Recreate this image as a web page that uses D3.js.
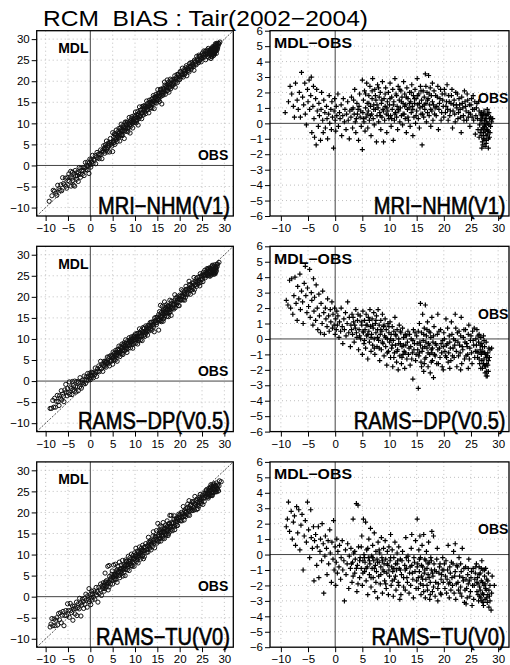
<!DOCTYPE html>
<html>
<head>
<meta charset="utf-8">
<script src="https://cdnjs.cloudflare.com/ajax/libs/d3/7.8.5/d3.min.js"></script>
<style>
body { margin: 0; background: #fff; }
svg { display: block; font-family: "Liberation Sans", Arial, Helvetica, sans-serif; }
</style>
</head>
<body>
<div id="chart"></div>
<script>
const TITLE = "RCM\u00a0\u00a0BIAS : Tair(2002\u22122004)";
const MODEL_NAMES = ["MRI\u2212NHM(V1)", "RAMS\u2212DP(V0.5)", "RAMS\u2212TU(V0)"];
const SCATTER_TICKS = [-10, -5, 0, 5, 10, 15, 20, 25, 30];
const BIAS_TICKS = [-6, -5, -4, -3, -2, -1, 0, 1, 2, 3, 4, 5, 6];
const OBS_DOMAIN = [-12, 32];
const BIAS_DOMAIN = [-6, 6];

// [OBS, MDL-OBS] pairs; MDL = OBS + bias on the left panels
const mriNhm = [
  [-9.2,0.7],[-8.6,1.4],[-8.3,2.4],[-8.0,1.9],[-7.7,1.1],[-7.5,0.4],[-7.3,2.6],[-7.0,1.5],[-6.8,0.9],[-6.6,2.0],
  [-6.4,0.4],[-6.2,3.3],[-6.0,1.7],[-5.8,1.2],[-5.6,2.6],[-5.5,0.6],[-5.3,-0.1],[-5.1,2.2],[-5.0,1.4],[-4.8,2.8],
  [-4.7,0.9],[-4.5,1.8],[-4.4,3.0],[-4.3,-0.6],[-4.1,1.1],[-4.0,2.4],[-3.9,0.3],[-3.8,-0.9],[-3.6,1.6],[-3.5,-1.4],
  [-3.4,2.2],[-3.3,0.8],[-3.1,-0.2],[-3.0,1.3],[-2.9,0.5],[-2.7,-1.1],[-2.6,0.9],[-2.5,2.0],[-2.3,0.2],[-2.2,-0.6],
  [-2.1,1.5],[-1.9,0.7],[-1.8,-0.3],[-1.6,1.1],[-1.5,0.3],[-1.4,-1.0],[-1.2,0.6],[-1.1,1.8],[-1.0,0.0],[-0.8,0.9],
  [-0.7,-0.4],[-0.6,1.4],[-0.5,0.4],[-0.3,-1.6],[-0.2,0.8],[-0.1,1.6],[0.0,0.2],[0.1,-0.5],[0.2,1.1],[0.3,0.5],
  [0.5,1.9],[0.6,-0.2],[0.8,0.7],[0.9,0.3],[1.1,1.2],[1.2,-0.8],[1.4,0.5],[1.5,1.6],[1.7,0.1],[1.8,0.9],
  [2.0,-0.4],[2.1,0.6],[2.3,1.4],[2.4,0.2],[2.6,-1.0],[2.7,0.8],[2.9,0.4],[3.0,1.7],[3.2,-0.3],[3.3,1.0],
  [3.5,0.6],[3.6,2.2],[3.8,-0.6],[3.9,0.3],[4.0,1.3],[4.2,0.9],[4.3,-1.1],[4.5,1.9],[4.6,0.4],[4.8,-0.2],
  [5.0,-1.7],[5.0,2.8],[5.1,0.7],[5.2,1.5],[5.3,0.1],[5.4,2.1],[5.5,-0.5],[5.6,1.0],[5.7,0.4],[5.8,2.6],
  [5.9,1.3],[6.0,-0.3],[6.1,0.8],[6.2,1.8],[6.3,0.2],[6.4,2.4],[6.5,1.1],[6.6,-0.8],[6.7,0.6],[6.8,1.6],
  [6.9,2.9],[7.0,0.3],[7.1,1.2],[7.2,-0.1],[7.3,2.2],[7.4,0.9],[7.5,1.5],[7.6,-1.2],[7.7,0.5],[7.8,2.5],
  [7.9,1.0],[8.0,0.1],[8.1,1.7],[8.2,0.7],[8.3,2.0],[8.4,-0.4],[8.5,1.3],[8.6,0.4],[8.7,2.7],[8.8,0.9],
  [8.9,-1.2],[9.0,1.6],[9.1,0.2],[9.2,1.1],[9.3,2.3],[9.4,0.6],[9.5,-0.6],[9.6,1.4],[9.7,0.8],[9.8,2.0],
  [9.9,0.3],[10.0,1.2],[10.1,2.6],[10.2,0.5],[10.3,-0.2],[10.4,1.7],[10.5,0.9],[10.6,2.2],[10.7,-1.1],[10.8,1.4],
  [10.9,0.2],[11.0,2.9],[11.1,0.7],[11.2,1.9],[11.3,0.4],[11.4,1.1],[11.5,-0.4],[11.6,2.4],[11.7,0.8],[11.8,1.5],
  [11.9,0.1],[12.0,1.0],[12.1,2.1],[12.2,0.5],[12.3,1.7],[12.4,-0.1],[12.5,1.3],[12.6,2.7],[12.7,0.6],[12.8,1.9],
  [12.9,0.3],[13.0,1.2],[13.1,-0.6],[13.2,2.3],[13.3,0.9],[13.4,1.6],[13.5,0.2],[13.6,1.0],[13.7,2.0],[13.8,-0.2],
  [13.9,1.4],[14.0,0.7],[14.1,2.5],[14.2,1.1],[14.3,-0.8],[14.4,1.8],[14.5,0.4],[14.6,1.3],[14.7,2.2],[14.8,0.0],
  [14.9,1.6],[15.0,0.8],[15.1,2.9],[15.2,1.2],[15.3,0.3],[15.4,1.9],[15.5,-0.3],[15.6,1.0],[15.7,2.4],[15.8,0.6],
  [15.9,1.5],[16.0,-1.4],[16.1,1.1],[16.2,2.1],[16.3,0.4],[16.4,1.7],[16.5,0.9],[16.6,3.2],[16.7,1.3],[16.8,0.1],
  [16.9,2.0],[17.0,0.7],[17.1,1.6],[17.2,3.1],[17.3,0.5],[17.4,1.2],[17.5,2.3],[17.6,-0.2],[17.7,1.8],[17.8,0.8],
  [17.9,1.4],[18.0,0.2],[18.2,2.1],[18.4,1.0],[18.6,0.5],[18.8,1.7],[19.0,-0.4],[19.2,1.3],[19.4,2.2],[19.6,0.7],
  [19.8,1.5],[20.0,0.4],[20.2,1.9],[20.4,1.1],[20.6,2.5],[20.8,0.2],[21.0,1.4],[21.2,0.8],[21.4,1.8],[21.6,-0.3],
  [21.8,1.2],[22.0,0.6],[22.2,2.0],[22.4,1.0],[22.6,0.3],[22.8,1.6],[23.0,0.9],[23.2,-0.6],[23.4,1.3],[23.6,0.5],
  [23.8,2.1],[24.0,1.1],[24.2,0.2],[24.4,1.5],[24.6,0.7],[24.8,-0.2],[25.0,1.2],[25.2,0.4],[25.4,1.8],[25.6,0.9],
  [25.8,-0.7],[26.0,1.0],[26.2,0.3],[26.4,1.4],[26.6,-0.1],[26.8,0.6],[26.5,-0.9],[26.7,0.2],[26.9,-0.4],[27.0,0.5],
  [27.1,-1.2],[27.2,0.0],[27.3,-0.6],[27.4,0.8],[27.5,-0.2],[27.6,-1.5],[27.7,0.3],[27.8,-0.8],[27.9,0.1],[28.0,-0.4],
  [28.1,0.6],[28.2,-1.0],[28.3,-0.1],[28.4,0.3],[28.5,-0.6],[28.6,0.4],[28.8,0.1],[29.0,0.3],[27.0,-1.6],[27.4,-0.3],
  [27.8,-1.1],[28.0,0.9],[26.9,0.7],[27.3,-1.0]
];
// the dense middle of the MRI cloud
const mriNhmDense = [
  [3.1,0.9],[3.4,1.5],[3.7,0.1],[4.1,0.6],[4.4,1.1],[4.7,0.8],[5.2,0.3],[5.6,1.9],[5.9,0.6],[6.2,1.3],
  [6.5,0.5],[6.8,2.1],[7.1,0.9],[7.4,1.8],[7.7,1.2],[8.0,2.3],[8.3,0.5],[8.6,1.5],[8.9,0.8],[9.2,1.9],
  [9.5,1.0],[9.8,0.5],[10.1,1.6],[10.4,0.3],[10.7,1.2],[11.0,0.6],[11.3,1.8],[11.6,0.9],[11.9,2.2],[12.2,1.4],
  [12.5,0.6],[12.8,1.1],[13.1,1.7],[13.4,0.4],[13.7,1.3],[14.0,2.0],[14.3,0.9],[14.6,1.6],[14.9,0.5],[15.2,1.8],
  [15.5,1.3],[15.8,2.1],[16.1,0.6],[16.4,1.2],[16.7,2.4],[17.0,1.5],[17.3,1.9],[17.6,0.9],[17.9,2.6],[18.1,1.2],
  [18.3,0.6],[18.5,1.8],[18.7,1.1],[18.9,2.4],[19.1,0.9],[19.3,1.6],[19.5,0.2],[19.7,1.9],[19.9,1.1],[20.1,2.2],
  [20.3,0.7],[20.5,1.4],[20.7,0.9],[20.9,1.8],[21.1,0.5],[21.3,1.3],[21.5,2.2],[21.7,0.8],[21.9,1.5],[22.1,0.1],
  [22.3,1.2],[22.5,1.9],[22.7,0.7],[22.9,1.2],[23.1,0.4],[23.3,1.7],[23.5,1.0],[23.7,0.2],[23.9,1.4],[24.1,0.8],
  [24.3,1.9],[24.5,0.4],[24.7,1.2],[24.9,0.6],[25.1,1.6],[25.3,0.9],[25.5,0.2],[25.7,1.4],[25.9,0.5],[26.1,1.3],
  [26.3,-0.4],[26.5,0.8],[26.7,-0.6],[26.9,0.2],[27.0,-0.8],[27.1,0.4],[27.2,-0.3],[27.3,0.6],[27.4,-1.0],[27.5,0.2],
  [27.6,-0.5],[27.7,-0.1],[27.8,-1.3],[27.9,0.5],[28.0,-0.7],[28.1,0.0],[28.2,-0.5],[28.3,0.7],[28.4,-0.9],[28.6,-0.2],
  [28.7,0.3],[27.2,-1.4],[27.6,0.6],[28.2,-1.6],[27.9,-0.4]
];

const ramsDp = [
  [-9.0,2.5],[-8.7,2.2],[-8.4,3.8],[-8.2,2.0],[-8.0,3.9],[-7.8,1.6],[-7.6,2.8],[-7.4,4.0],[-7.2,2.3],[-7.0,1.2],
  [-6.9,3.4],[-6.7,2.6],[-6.5,4.2],[-6.4,1.9],[-6.2,3.1],[-6.0,2.4],[-5.9,1.0],[-5.7,3.6],[-5.5,4.7],[-5.4,2.8],
  [-5.2,1.7],[-5.1,3.3],[-4.9,2.1],[-4.7,4.5],[-4.6,1.4],[-4.4,3.0],[-4.3,2.5],[-4.1,0.9],[-4.0,3.9],[-3.9,1.8],
  [-3.8,2.7],[-3.6,1.2],[-3.5,3.5],[-3.3,2.0],[-3.2,0.6],[-3.0,2.9],[-2.9,1.5],[-2.7,0.4],[-2.6,2.3],[-2.4,1.0],
  [-2.3,3.1],[-2.1,1.7],[-2.0,0.3],[-1.8,2.0],[-1.7,1.3],[-1.5,0.8],[-1.4,2.6],[-1.2,1.5],[-1.1,0.5],[-0.9,1.9],
  [-0.8,1.1],[-0.6,2.4],[-0.5,0.7],[-0.4,1.6],[-0.2,0.9],[-0.1,2.0],[0.0,0.3],[0.1,1.3],[0.2,0.6],[0.3,1.8],
  [0.4,0.9],[0.5,1.5],[0.7,0.1],[0.8,1.1],[1.0,0.5],[1.1,2.0],[1.3,0.8],[1.4,-0.3],[1.6,1.3],[1.7,0.6],
  [1.9,1.7],[2.0,0.2],[2.2,1.0],[2.3,2.4],[2.5,0.4],[2.6,1.4],[2.8,-0.5],[2.9,0.9],[3.1,1.6],[3.2,0.3],
  [3.4,1.1],[3.5,-0.2],[3.7,0.7],[3.8,1.9],[4.0,0.1],[4.1,1.2],[4.3,-0.7],[4.4,0.6],[4.6,1.5],[4.7,0.0],
  [4.9,0.9],[5.0,-1.0],[5.1,1.8],[5.2,0.4],[5.3,-0.3],[5.4,1.2],[5.5,0.6],[5.6,-0.6],[5.7,1.6],[5.8,0.2],
  [5.9,0.9],[6.0,-1.3],[6.1,1.4],[6.2,0.5],[6.3,-0.2],[6.4,1.9],[6.5,0.8],[6.6,-0.8],[6.7,0.3],[6.8,1.3],
  [6.9,-0.4],[7.0,0.7],[7.1,1.7],[7.2,0.0],[7.3,-1.0],[7.4,1.0],[7.5,0.4],[7.6,1.5],[7.7,-0.5],[7.8,0.6],
  [7.9,1.9],[8.0,-0.1],[8.1,0.9],[8.2,-1.4],[8.3,0.3],[8.4,1.2],[8.5,-0.7],[8.6,0.5],[8.7,1.6],[8.8,-0.3],
  [8.9,0.8],[9.0,-1.1],[9.1,0.2],[9.2,1.3],[9.3,-0.5],[9.4,0.6],[9.5,-1.7],[9.6,0.0],[9.7,1.0],[9.8,-0.8],
  [9.9,0.4],[10.0,-0.2],[10.1,1.1],[10.2,-1.2],[10.3,0.3],[10.4,-0.6],[10.5,0.8],[10.6,-1.8],[10.7,-0.1],[10.8,0.5],
  [10.9,-0.9],[11.0,1.4],[11.1,-0.4],[11.2,0.2],[11.3,-1.5],[11.4,0.6],[11.5,-0.7],[11.6,-2.0],[11.7,0.0],[11.8,0.9],
  [11.9,-1.1],[12.0,-0.3],[12.1,0.4],[12.2,-1.6],[12.3,-0.5],[12.4,0.7],[12.5,-1.0],[12.6,0.1],[12.7,-0.8],[12.8,-1.9],
  [12.9,0.3],[13.0,-0.4],[13.2,-1.3],[13.4,0.5],[13.6,-0.6],[13.8,-1.7],[14.0,0.0],[14.2,-0.9],[14.3,-2.6],[14.4,0.6],
  [14.6,-0.3],[14.8,-1.4],[15.0,0.2],[15.2,-0.7],[15.3,-3.2],[15.4,-1.1],[15.5,1.0],[15.6,-0.2],[15.7,2.3],[15.8,-1.5],
  [15.9,0.4],[16.0,-0.8],[16.1,1.6],[16.2,-0.1],[16.3,-2.1],[16.4,0.7],[16.5,-0.5],[16.6,2.2],[16.7,-1.2],[16.8,0.2],
  [16.9,-0.6],[17.0,1.1],[17.1,-1.8],[17.2,-0.3],[17.3,0.5],[17.4,-1.0],[17.5,-2.2],[17.6,0.1],[17.7,-0.7],[17.8,1.4],
  [17.9,-1.4],[18.0,-0.2],[18.2,0.8],[18.4,-1.1],[18.6,-0.4],[18.8,0.3],[19.0,-1.6],[19.2,-0.6],[19.4,0.6],[19.6,-0.9],
  [19.8,-0.1],[19.9,-2.0],[18.1,-2.5],[18.9,1.6],[16.4,-1.6],[17.8,-0.9],[20.0,0.4],[20.2,-0.8],[20.4,1.3],[20.6,-0.3],
  [20.8,-1.5],[21.0,0.2],[21.2,-0.6],[21.4,1.1],[21.6,-1.1],[21.8,0.0],[22.0,-0.4],[22.2,0.7],[22.4,-1.8],[22.6,-0.2],
  [22.8,0.5],[23.0,-0.9],[23.2,1.4],[23.4,-0.5],[23.6,0.1],[23.8,-1.3],[24.0,0.6],[24.2,-0.3],[24.4,-1.0],[24.6,0.9],
  [24.8,-0.6],[25.0,0.2],[25.2,-1.6],[25.4,-0.1],[25.6,0.7],[25.8,-0.8],[21.1,-1.9],[23.1,-2.0],[22.1,1.6],[24.5,-1.9],
  [20.5,-1.2],[26.0,-0.4],[26.1,0.6],[26.2,-1.2],[26.4,-0.2],[26.5,0.3],[26.6,-1.6],[26.7,-0.7],[26.8,0.1],[26.9,-1.0],
  [27.0,-0.3],[27.1,-1.9],[27.2,-0.8],[27.3,0.2],[27.4,-1.3],[27.5,-0.5],[27.6,-2.2],[27.7,-1.0],[27.8,-0.2],[27.9,-1.6],
  [28.0,-2.4],[28.1,-0.9],[28.2,-1.4],[28.3,-0.6],[28.5,-0.7],[28.8,-0.6],[27.5,-1.7],[27.9,-2.1],[26.3,-0.9],[27.0,-1.4],
  [28.0,-1.1]
];
const ramsDpDense = [
  [3.0,0.6],[3.3,1.4],[3.6,0.9],[3.9,0.4],[4.2,1.6],[4.5,0.2],[4.8,1.1],[5.1,0.5],[5.4,-0.1],[5.7,0.9],
  [6.0,0.3],[6.3,1.2],[6.6,0.1],[6.9,0.9],[7.2,-0.6],[7.5,1.2],[7.8,0.1],[8.1,-0.6],[8.4,0.6],[8.7,-0.2],
  [9.0,0.9],[9.3,0.1],[9.6,-0.9],[9.9,0.8],[10.2,0.0],[10.5,-0.4],[10.8,-1.2],[11.1,0.3],[11.4,-0.8],[11.7,-0.3],
  [12.0,0.5],[12.3,-1.2],[12.6,-0.4],[12.9,-0.9],[13.1,0.2],[13.3,-0.2],[13.5,-1.0],[13.7,0.3],[13.9,-0.5],[14.1,-1.3],
  [14.3,-0.1],[14.5,-0.7],[14.7,0.4],[14.9,-1.0],[15.1,-0.3],[15.3,0.5],[15.5,-0.9],[15.7,-0.4],[15.9,-1.8],[16.1,-0.6],
  [16.3,0.3],[16.5,-1.3],[16.7,-0.2],[16.9,0.6],[17.1,-0.9],[17.3,-0.4],[17.5,0.4],[17.7,-1.5],[17.9,-0.6],[18.1,0.2],
  [18.3,-1.0],[18.5,-0.3],[18.7,-1.6],[18.9,-0.7],[19.1,0.5],[19.3,-1.2],[19.5,-0.3],[19.7,-1.8],[19.9,-0.5],[20.1,0.0],
  [20.3,-1.1],[20.5,-0.4],[20.7,0.7],[20.9,-0.9],[21.1,-0.2],[21.3,-1.4],[21.5,0.3],[21.7,-0.6],[21.9,-1.2],[22.1,-0.1],
  [22.3,-0.8],[22.5,0.4],[22.7,-1.1],[22.9,-0.4],[23.1,0.2],[23.3,-1.6],[23.5,-0.7],[23.7,0.6],[23.9,-0.2],[24.1,-1.1],
  [24.3,-0.5],[24.5,0.3],[24.7,-1.3],[24.9,-0.1],[25.1,-0.9],[25.3,0.5],[25.5,-0.4],[25.7,-1.2],[25.9,0.0],[26.1,-0.8],
  [26.3,0.2],[26.5,-1.3],[26.7,-0.4],[26.9,-0.9],[27.1,-0.5],[27.3,-1.6],[27.5,-0.9],[27.7,-1.8],[27.9,-1.2],[28.1,-1.7],
  [28.2,-2.1],[27.8,-2.4],[26.8,-1.9],[28.4,-1.2],[27.4,-0.1]
];

const ramsTu = [
  [-9.0,1.8],[-8.8,2.3],[-8.6,3.4],[-8.4,1.5],[-8.1,2.8],[-7.9,1.0],[-7.7,2.1],[-7.5,2.5],[-7.3,0.6],[-7.1,3.1],
  [-6.9,1.4],[-6.7,2.9],[-6.5,0.3],[-6.3,1.9],[-6.1,2.6],[-5.9,-1.0],[-5.7,1.2],[-5.5,2.2],[-5.3,0.8],[-5.1,3.4],
  [-4.9,1.6],[-4.7,-0.2],[-4.5,2.9],[-4.4,1.1],[-4.2,0.4],[-4.0,1.8],[-3.9,-1.7],[-3.8,0.9],[-3.6,1.3],[-3.4,-0.7],
  [-3.3,0.5],[-3.1,1.8],[-3.0,-1.5],[-2.8,0.2],[-2.7,1.0],[-2.5,-0.4],[-2.4,2.0],[-2.2,0.7],[-2.1,-2.5],[-1.9,-0.1],
  [-1.8,1.2],[-1.6,0.4],[-1.5,-1.3],[-1.3,0.9],[-1.2,-0.6],[-1.0,1.6],[-0.9,0.1],[-0.7,-1.8],[-0.6,0.8],[-0.4,-0.3],
  [-0.3,2.2],[-0.2,-1.0],[0.0,0.5],[0.1,-2.0],[0.2,-0.5],[0.3,1.0],[0.4,-1.2],[0.5,0.2],[0.7,-0.8],[0.8,0.6],
  [1.0,-1.6],[1.1,-0.2],[1.3,0.9],[1.4,-1.0],[1.6,-0.4],[1.7,-3.0],[1.9,0.3],[2.0,-1.3],[2.2,-0.6],[2.3,0.7],
  [2.5,-2.2],[2.6,-0.1],[2.8,-0.9],[2.9,0.4],[3.1,-1.8],[3.2,-0.5],[3.3,2.3],[3.4,0.1],[3.6,-1.2],[3.7,-0.3],
  [3.9,3.3],[4.0,-2.4],[4.1,-0.7],[4.2,3.2],[4.3,0.5],[4.5,-1.5],[4.6,-0.2],[4.8,-0.9],[4.9,1.2],[5.0,-2.0],
  [5.1,-0.4],[5.2,2.3],[5.3,0.0],[5.4,-1.1],[5.5,-0.5],[5.6,2.1],[5.7,-1.7],[5.8,0.3],[5.9,-0.8],[6.0,-2.6],
  [6.1,-0.2],[6.2,1.0],[6.3,-1.3],[6.4,-0.6],[6.5,1.7],[6.6,-2.1],[6.7,-0.1],[6.8,-0.9],[6.9,0.6],[7.0,-1.5],
  [7.1,-0.4],[7.2,1.4],[7.3,-2.4],[7.4,-0.7],[7.5,0.2],[7.6,-1.1],[7.7,-0.3],[7.8,-2.8],[7.9,0.8],[8.0,-1.4],
  [8.1,-0.5],[8.2,0.1],[8.3,-1.9],[8.4,-0.8],[8.5,1.1],[8.6,-0.2],[8.7,-2.5],[8.8,-1.0],[8.9,0.4],[9.0,-0.6],
  [9.1,-1.7],[9.2,0.9],[9.3,-0.3],[9.4,-2.2],[9.5,-1.2],[9.6,0.2],[9.7,-0.7],[9.8,-2.6],[9.9,0.5],[10.0,-1.4],
  [10.1,-0.4],[10.2,1.3],[10.3,-2.0],[10.4,-0.8],[10.5,0.3],[10.6,-1.1],[10.7,-2.7],[10.8,-0.2],[10.9,-1.6],[11.0,0.8],
  [11.1,-0.6],[11.2,-2.3],[11.3,-1.0],[11.4,0.1],[11.5,-0.4],[11.6,-1.8],[11.7,0.5],[11.8,-0.9],[11.9,-2.9],[12.0,-0.3],
  [12.2,-1.3],[12.4,0.2],[12.6,-2.1],[12.8,-0.7],[13.0,1.1],[13.2,-1.5],[13.4,-0.1],[13.6,-2.5],[13.8,-0.8],[14.0,0.4],
  [14.2,-1.2],[14.4,-2.8],[14.6,-0.5],[14.8,0.9],[15.0,-1.7],[12.1,-2.6],[13.1,-0.2],[14.1,1.3],[12.9,-1.0],[15.1,2.3],
  [15.2,-0.6],[15.3,-2.2],[15.4,0.3],[15.5,-1.1],[15.6,1.2],[15.7,-0.2],[15.8,-2.6],[15.9,-1.4],[16.0,0.6],[16.1,-0.8],
  [16.2,-2.0],[16.3,1.3],[16.4,-1.2],[16.5,-0.3],[16.6,-2.8],[16.7,-1.6],[16.8,0.2],[16.9,-0.9],[17.0,-2.3],[17.1,-1.3],
  [17.2,0.8],[17.3,-0.5],[17.4,-2.9],[17.5,-1.8],[17.6,-0.2],[17.7,-1.0],[17.8,1.5],[17.9,-2.4],[18.0,-1.4],[18.2,-0.6],
  [18.4,-2.7],[18.6,-1.1],[18.8,0.4],[19.0,-1.9],[19.2,-0.8],[19.4,-2.5],[19.6,-1.3],[19.8,-0.2],[18.1,1.2],[18.9,-3.0],
  [19.5,-1.6],[20.0,-1.0],[20.2,-2.2],[20.4,-0.4],[20.6,-1.6],[20.8,0.6],[21.0,-2.8],[21.2,-1.2],[21.4,-0.5],[21.6,-2.0],
  [21.8,0.2],[22.0,-1.4],[22.2,-2.9],[22.4,-0.7],[22.6,-1.8],[22.8,-0.2],[23.0,-2.5],[23.2,-1.1],[23.4,0.4],[23.6,-1.7],
  [23.8,-3.1],[24.0,-0.8],[24.2,-2.2],[24.4,-1.3],[24.6,-0.3],[24.8,-2.7],[25.0,-1.5],[25.2,-3.3],[25.4,-0.9],[25.6,-2.0],
  [25.8,-1.2],[21.1,-1.8],[22.1,0.7],[23.1,-2.1],[24.1,-3.2],[24.5,-1.9],[26.0,-0.6],[26.1,-2.4],[26.2,-1.5],[26.4,-3.0],
  [26.5,-0.8],[26.6,-2.1],[26.7,-1.2],[26.8,-2.8],[26.9,-1.7],[27.0,-0.4],[27.1,-2.5],[27.2,-1.0],[27.3,-3.3],[27.4,-2.0],
  [27.5,-1.4],[27.6,-2.9],[27.7,-0.9],[27.8,-2.3],[27.9,-1.6],[28.0,-3.1],[28.1,-2.6],[28.2,-1.2],[28.3,-3.4],[28.5,-2.0],
  [28.7,-3.6],[28.9,-1.4],[29.3,-2.0],[27.0,-3.0],[27.6,-1.9],[26.3,-1.9],[28.4,-2.7]
];
const ramsTuDense = [
  [3.0,-0.6],[3.3,-1.4],[3.6,0.2],[3.9,-0.9],[4.2,-1.9],[4.5,-0.4],[4.8,0.5],[5.1,-1.2],[5.4,-0.2],[5.7,-0.9],
  [6.0,0.4],[6.3,-0.4],[6.6,-1.5],[6.9,-0.2],[7.2,-0.9],[7.5,-1.8],[7.8,-0.5],[8.1,0.3],[8.4,-1.3],[8.7,-0.4],
  [9.0,-1.1],[9.3,-1.9],[9.6,-0.6],[9.9,-1.0],[10.2,-0.2],[10.5,-1.7],[10.8,-0.9],[11.1,-1.4],[11.4,-0.6],[11.7,-2.0],
  [12.0,-1.0],[12.3,-0.4],[12.6,-1.5],[12.9,-2.3],[13.1,-0.9],[13.3,-1.8],[13.5,-0.4],[13.7,-1.2],[13.9,-2.0],[14.1,-0.7],
  [14.3,-1.6],[14.5,-0.2],[14.7,-1.1],[14.9,-2.2],[15.1,-0.8],[15.3,-1.5],[15.5,-0.3],[15.7,-1.9],[15.9,-0.7],[16.1,-1.6],
  [16.3,-2.4],[16.5,-1.0],[16.7,-0.4],[16.9,-2.0],[17.1,-0.6],[17.3,-1.5],[17.5,-2.6],[17.7,-0.4],[17.9,-1.2],[18.1,-2.1],
  [18.3,-1.0],[18.5,-1.8],[18.7,-0.3],[18.9,-2.2],[19.1,-1.2],[19.3,-0.6],[19.5,-2.6],[19.7,-1.0],[19.9,-1.8],[20.1,-0.6],
  [20.3,-1.4],[20.5,-2.5],[20.7,-1.0],[20.9,-1.9],[21.1,-0.8],[21.3,-2.3],[21.5,-1.5],[21.7,-0.6],[21.9,-2.5],[22.1,-1.1],
  [22.3,-1.9],[22.5,-0.8],[22.7,-2.3],[22.9,-1.4],[23.1,-0.6],[23.3,-2.7],[23.5,-1.5],[23.7,-0.9],[23.9,-2.3],[24.1,-1.6],
  [24.3,-2.8],[24.5,-0.9],[24.7,-1.7],[24.9,-2.4],[25.1,-1.1],[25.3,-2.0],[25.5,-2.9],[25.7,-1.6],[25.9,-0.8],[26.1,-1.8],
  [26.3,-2.6],[26.5,-1.3],[26.7,-2.3],[26.9,-0.9],[27.1,-1.8],[27.3,-2.6],[27.5,-1.0],[27.7,-2.2],[27.9,-2.8],[28.1,-1.7],
  [28.3,-2.3],[28.5,-3.0],[28.8,-2.5],[27.2,-3.1],[26.6,-2.7]
];

const modelData = [
    mriNhm.concat(mriNhmDense),
    ramsDp.concat(ramsDpDense),
    ramsTu.concat(ramsTuDense)
];

const W = 510, H = 665;
const ROW_TOPS = [30.7, 246.3, 461.9];
const PANEL_H = 185.3;
const LEFT_COL = [36.7, 233.3];
const RIGHT_COL = [270, 509];

const svg = d3.select("#chart").append("svg")
    .attr("width", W)
    .attr("height", H);

svg.append("text")
    .attr("x", 43)
    .attr("y", 25.5)
    .attr("font-size", 22.5)
    .attr("textLength", 325)
    .attr("lengthAdjust", "spacingAndGlyphs")
    .attr("fill", "#000")
    .text(TITLE);

// GrADS-like big label: tall and a bit narrow, right aligned
function bigLabel(g, text, right, baseline) {
    g.append("g")
        .attr("transform", "translate(" + right + "," + baseline + ") scale(0.87,1)")
        .append("text")
        .attr("text-anchor", "end")
        .attr("font-size", 23)
        .attr("fill", "#000")
        .attr("stroke", "#000")
        .attr("stroke-width", 0.6)
        .text(text);
}

function drawPanel(row, col, data, name) {
    var isBias = col === 1;
    var xr = isBias ? RIGHT_COL : LEFT_COL;
    var top = ROW_TOPS[row];
    var bottom = top + PANEL_H;

    var x = d3.scaleLinear().domain(OBS_DOMAIN).range(xr);
    var y = d3.scaleLinear().domain(isBias ? BIAS_DOMAIN : OBS_DOMAIN).range([bottom, top]);
    var yTicks = isBias ? BIAS_TICKS : SCATTER_TICKS;

    var g = svg.append("g");
    var clipId = "clip-" + row + "-" + col;
    g.append("clipPath").attr("id", clipId)
        .append("rect")
        .attr("x", xr[0]).attr("y", top)
        .attr("width", xr[1] - xr[0]).attr("height", PANEL_H);

    var grid = g.append("g")
        .attr("stroke", "#b0b0b0")
        .attr("stroke-width", 0.8)
        .attr("stroke-dasharray", "1,3");
    grid.selectAll("line.gx").data(SCATTER_TICKS.filter(d => d !== 0)).enter().append("line")
        .attr("x1", d => x(d)).attr("x2", d => x(d))
        .attr("y1", top).attr("y2", bottom);
    grid.selectAll("line.gy").data(yTicks.filter(d => d !== 0 && d > y.domain()[0] && d < y.domain()[1])).enter().append("line")
        .attr("y1", d => y(d)).attr("y2", d => y(d))
        .attr("x1", xr[0]).attr("x2", xr[1]);

    // zero lines
    g.append("line")
        .attr("x1", x(0)).attr("x2", x(0)).attr("y1", top).attr("y2", bottom)
        .attr("stroke", "#444").attr("stroke-width", 1);
    g.append("line")
        .attr("x1", xr[0]).attr("x2", xr[1]).attr("y1", y(0)).attr("y2", y(0))
        .attr("stroke", "#444").attr("stroke-width", 1);

    var marks = g.append("g").attr("clip-path", "url(#" + clipId + ")");

    if (isBias) {
        marks.selectAll("path").data(data).enter().append("path")
            .attr("d", "M-2.5,0H2.5M0,-2.5V2.5")
            .attr("transform", d => "translate(" + x(d[0]) + "," + y(d[1]) + ")")
            .attr("stroke", "#000")
            .attr("stroke-width", 1.2)
            .attr("fill", "none");
    } else {
        // 1:1 line
        marks.append("line")
            .attr("x1", x(OBS_DOMAIN[0])).attr("y1", y(OBS_DOMAIN[0]))
            .attr("x2", x(OBS_DOMAIN[1])).attr("y2", y(OBS_DOMAIN[1]))
            .attr("stroke", "#222")
            .attr("stroke-width", 0.8)
            .attr("stroke-dasharray", "2,1.5");
        marks.selectAll("circle").data(data).enter().append("circle")
            .attr("cx", d => x(d[0]))
            .attr("cy", d => y(d[0] + d[1]))
            .attr("r", 2.1)
            .attr("fill", "none")
            .attr("stroke", "#111")
            .attr("stroke-width", 1);
    }

    // axes
    var xAxis = g.append("g")
        .attr("transform", "translate(0," + bottom + ")")
        .call(d3.axisBottom(x).tickValues(SCATTER_TICKS).tickSize(5).tickPadding(3));
    var yAxis = g.append("g")
        .attr("transform", "translate(" + xr[0] + ",0)")
        .call(d3.axisLeft(y).tickValues(yTicks).tickSize(5).tickPadding(2));
    [xAxis, yAxis].forEach(function(a) {
        a.select(".domain").remove();
        a.selectAll("line").attr("stroke", "#000");
        a.selectAll("text")
            .attr("fill", "#000")
            .attr("font-size", 11.5)
            .attr("font-family", "'Liberation Sans', Arial, sans-serif");
    });

    g.append("rect")
        .attr("x", xr[0]).attr("y", top)
        .attr("width", xr[1] - xr[0]).attr("height", PANEL_H)
        .attr("fill", "none")
        .attr("stroke", "#000")
        .attr("stroke-width", 1.3);

    // labels
    if (isBias) {
        g.append("text")
            .attr("x", xr[0] + 4).attr("y", top + 17.3)
            .attr("font-size", 14).attr("font-weight", "bold")
            .attr("textLength", 78).attr("lengthAdjust", "spacingAndGlyphs")
            .text("MDL\u2212OBS");
        g.append("text")
            .attr("x", 478).attr("y", top + 72.3)
            .attr("font-size", 14).attr("font-weight", "bold")
            .text("OBS");
    } else {
        g.append("text")
            .attr("x", xr[0] + 21.5).attr("y", top + 22.5)
            .attr("font-size", 14).attr("font-weight", "bold")
            .text("MDL");
        g.append("text")
            .attr("x", xr[1] - 5).attr("y", top + 129.3)
            .attr("text-anchor", "end")
            .attr("font-size", 14).attr("font-weight", "bold")
            .text("OBS");
    }
    bigLabel(g, name, xr[1] - 3.5, bottom - 2.5);
}

modelData.forEach(function(data, i) {
    drawPanel(i, 0, data, MODEL_NAMES[i]);
    drawPanel(i, 1, data, MODEL_NAMES[i]);
});
</script>
</body>
</html>
